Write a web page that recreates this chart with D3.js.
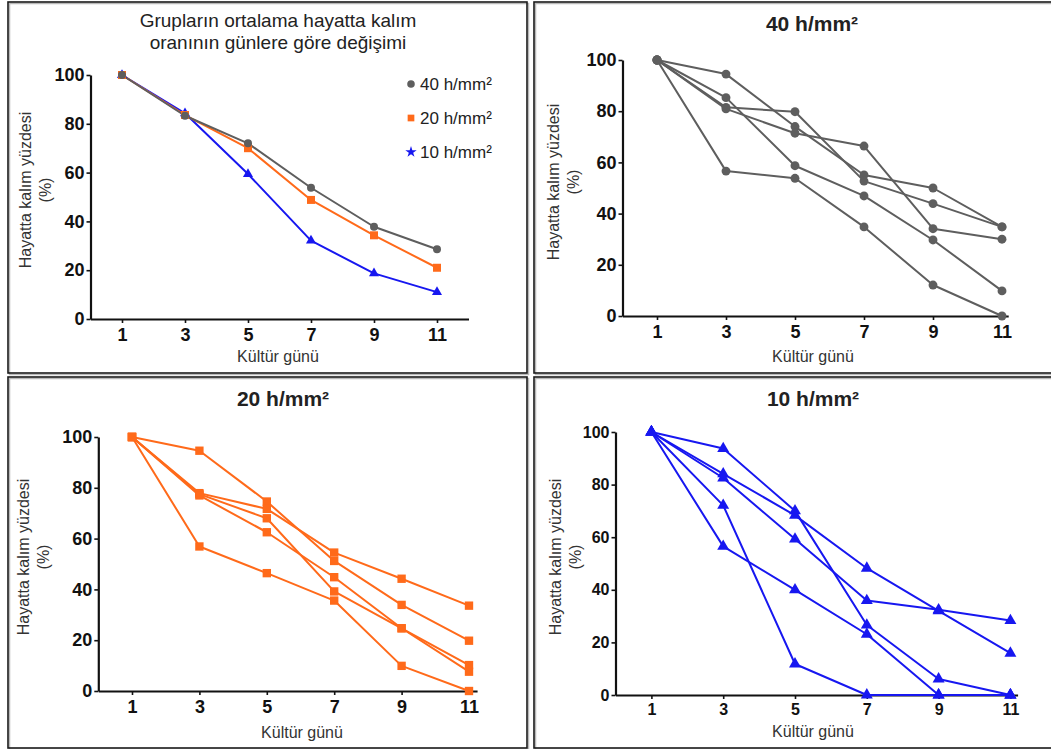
<!DOCTYPE html>
<html>
<head>
<meta charset="utf-8">
<script src="https://cdn.jsdelivr.net/npm/d3@7"></script>
<style>
  html, body { margin: 0; padding: 0; background: #fff; }
  svg { display: block; font-family: "Liberation Sans", Arial, sans-serif; }
</style>
</head>
<body>
<svg id="chart" width="1051" height="749"></svg>
<script>
// ---------- DATA ----------
const days = [1, 3, 5, 7, 9, 11];
const yTicks = [0, 20, 40, 60, 80, 100];
const groupNames = ["40 h/mm²", "20 h/mm²", "10 h/mm²"];

// Panel 1: group means
const mean40 = [100, 83.3, 72, 53.8, 37.8, 28.6];
const mean20 = [100, 83.6, 70, 48.8, 34.3, 21];
const mean10 = [100, 84.3, 59.4, 32.1, 18.7, 11];

// Panel 2: 40 h/mm² replicates
const rep40 = [
  [100, 94.5, 74, 55.1, 50, 34.8],
  [100, 81.5, 79.8, 52.7, 43.9, 34.8],
  [100, 80.9, 71.4, 66.4, 34.1, 30],
  [100, 85.3, 58.7, 46.9, 29.7, 9.8],
  [100, 56.6, 53.8, 34.8, 12.1, 0]
];
// Panel 3: 20 h/mm² replicates
const rep20 = [
  [100, 94.6, 74.6, 51.2, 33.9, 19.8],
  [100, 77.9, 71.7, 54.5, 44.2, 33.6],
  [100, 77.5, 68, 39.2, 24.7, 7.6],
  [100, 77, 62.5, 44.8, 24.7, 10.2],
  [100, 56.9, 46.4, 35.6, 9.9, 0]
];
// Panel 4: 10 h/mm² replicates
const rep10 = [
  [100, 93.7, 70, 26.6, 6.1, 0],
  [100, 84.1, 68.3, 48.2, 32, 15.9],
  [100, 82.5, 59.3, 35.9, 32.4, 28.3],
  [100, 72.1, 11.8, 0, 0, 0],
  [100, 56.5, 40, 23.1, 0, 0]
];

const colGray = "#5e5e5e", colOrange = "#ff6a1a", colBlue = "#1717f0";

const svg = d3.select("#chart");

// ---------- panel frames ----------
const frames = [
  {x: 8, y: 2, w: 519, h: 371},
  {x: 534, y: 2, w: 520, h: 371},
  {x: 8, y: 377, w: 519, h: 371},
  {x: 534, y: 377, w: 520, h: 371}
];
frames.forEach(f => {
  svg.append("rect").attr("x", f.x + 1.5).attr("y", f.y + 1.5).attr("width", f.w).attr("height", f.h)
    .attr("fill", "none").attr("stroke", "#b8b8b8").attr("stroke-width", 1.5);
  svg.append("rect").attr("x", f.x).attr("y", f.y).attr("width", f.w).attr("height", f.h)
    .attr("fill", "none").attr("stroke", "#1a1a1a").attr("stroke-width", 1.6);
});

function symbolFor(shape, small) {
  if (shape === "circle") return d3.symbol().type(d3.symbolCircle).size(small ? 50 : 62);
  if (shape === "square") return d3.symbol().type(d3.symbolSquare).size(small ? 64 : 70);
  return d3.symbol().type(d3.symbolTriangle).size(small ? 44 : 62);
}

function drawPanel(cfg) {
  const g = svg.append("g");
  const x = d3.scaleLinear().domain([0, cfg.xmax]).range([cfg.ax, cfg.ax + cfg.unit * cfg.xmax]);
  const y = d3.scaleLinear().domain([0, 100]).range([cfg.yBot, cfg.yTop]);

  // axes
  const xAxis = d3.axisBottom(x).tickValues(days).tickSize(4).tickSizeOuter(0).tickPadding(5);
  const yAxis = d3.axisLeft(y).tickValues(yTicks).tickSize(4).tickSizeOuter(0).tickPadding(2);
  const gx = g.append("g").attr("transform", `translate(0,${cfg.yBot})`).call(xAxis);
  const gy = g.append("g").attr("transform", `translate(${cfg.ax},0)`).call(yAxis);
  [gx, gy].forEach(a => {
    a.select(".domain").attr("stroke", "#111").attr("stroke-width", 2.2);
    a.selectAll(".tick line").attr("stroke", "#111").attr("stroke-width", 1.6);
    a.selectAll(".tick text").attr("fill", "#111").attr("font-weight", "bold")
      .attr("font-size", cfg.tickFont).attr("font-family", "Liberation Sans, Arial, sans-serif");
  });

  // lines + markers
  const line = d3.line().x((d, i) => x(days[i])).y(d => y(d));
  cfg.series.forEach((s, k) => {
    const col = cfg.colors[k];
    g.append("path").datum(s).attr("d", line).attr("fill", "none")
      .attr("stroke", col).attr("stroke-width", 2).attr("stroke-linejoin", "round");
  });
  cfg.series.forEach((s, k) => {
    const col = cfg.colors[k];
    const shp = symbolFor(cfg.shapes ? cfg.shapes[k] : cfg.shape, cfg.small);
    g.selectAll(null).data(s).enter().append("path")
      .attr("d", shp)
      .attr("transform", (d, i) => `translate(${x(days[i])},${y(d)})`)
      .attr("fill", col);
  });

  // titles
  cfg.title.forEach((t, i) => {
    g.append("text").attr("x", cfg.titleX).attr("y", cfg.titleY + i * 22)
      .attr("text-anchor", "middle").attr("dominant-baseline", "central")
      .attr("font-size", cfg.titleSize).attr("font-weight", cfg.titleBold ? "bold" : "normal")
      .attr("fill", "#222").text(t);
  });
  // y label
  const yl = g.append("g").attr("transform", `translate(${cfg.ylX},${cfg.ylY}) rotate(-90)`);
  yl.append("text").attr("x", 0).attr("y", 0).attr("text-anchor", "middle")
    .attr("dominant-baseline", "central").attr("font-size", 16).attr("fill", "#333")
    .text("Hayatta kalım yüzdesi");
  yl.append("text").attr("x", 0).attr("y", 20).attr("text-anchor", "middle")
    .attr("dominant-baseline", "central").attr("font-size", 16).attr("fill", "#333")
    .text("(%)");
  // x label
  g.append("text").attr("x", cfg.xlX).attr("y", cfg.xlY).attr("text-anchor", "middle")
    .attr("dominant-baseline", "central").attr("font-size", 16).attr("fill", "#333")
    .text("Kültür günü");
  return {x, y, g};
}

// Panel 1 (drawn 10 -> 20 -> 40 so grey sits on top, as in the reference)
drawPanel({
  ax: 90.5, unit: 31.5, xmax: 12, yTop: 75, yBot: 319, tickFont: 18, small: true,
  series: [mean10, mean20, mean40], colors: [colBlue, colOrange, colGray],
  shapes: ["triangle", "square", "circle"],
  title: ["Grupların ortalama hayatta kalım", "oranının günlere göre değişimi"],
  titleX: 278, titleY: 20, titleSize: 19, titleBold: false,
  ylX: 25, ylY: 190, xlX: 278, xlY: 356
});
// legend
const legendShapes = [d3.symbolCircle, d3.symbolSquare, d3.symbolStar];
const legendCols = [colGray, colOrange, colBlue];
const lg = svg.append("g");
groupNames.forEach((n, i) => {
  const yy = 84 + i * 34;
  lg.append("path").attr("d", d3.symbol().type(legendShapes[i]).size(i === 2 ? 40 : 45)())
    .attr("transform", `translate(411,${yy})`).attr("fill", legendCols[i]);
  lg.append("text").attr("x", 420).attr("y", yy).attr("dominant-baseline", "central")
    .attr("font-size", 17).attr("fill", "#222").text(n);
});

// Panel 2
drawPanel({
  ax: 622.5, unit: 34.5, xmax: 11.18, yTop: 60, yBot: 316, tickFont: 18,
  series: rep40, colors: rep40.map(() => colGray), shape: "circle",
  title: [groupNames[0]], titleX: 812, titleY: 23, titleSize: 21, titleBold: true,
  ylX: 553, ylY: 182, xlX: 813, xlY: 356
});
// Panel 3
drawPanel({
  ax: 98.3, unit: 33.7, xmax: 11.24, yTop: 437, yBot: 691, tickFont: 18,
  series: rep20, colors: rep20.map(() => colOrange), shape: "square",
  title: [groupNames[1]], titleX: 283, titleY: 398, titleSize: 21, titleBold: true,
  ylX: 23, ylY: 557, xlX: 302, xlY: 732
});
// Panel 4
drawPanel({
  ax: 615.5, unit: 35.9, xmax: 11.2, yTop: 432, yBot: 695, tickFont: 16,
  series: rep10, colors: rep10.map(() => colBlue), shape: "triangle",
  title: [groupNames[2]], titleX: 813, titleY: 398, titleSize: 21, titleBold: true,
  ylX: 555, ylY: 557, xlX: 813, xlY: 731
});
</script>
</body>
</html>
